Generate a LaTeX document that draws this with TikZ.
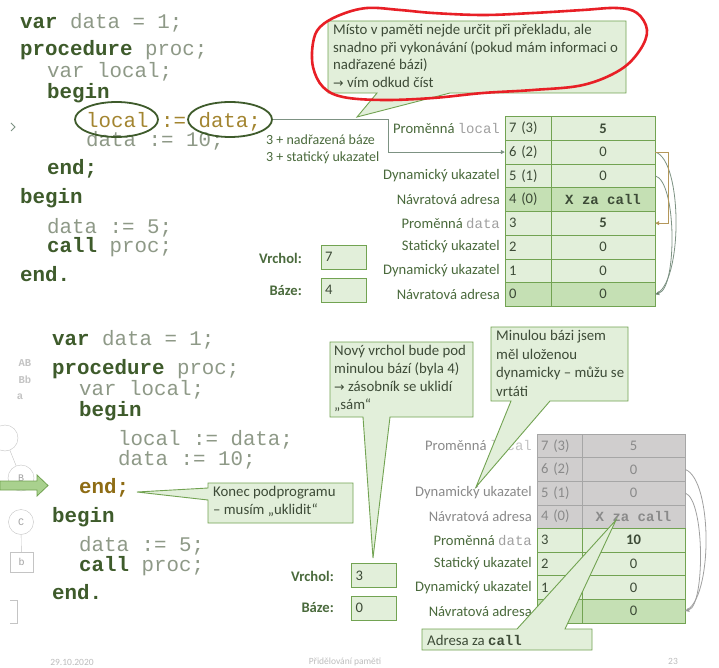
\documentclass[tikz,border=0pt]{standalone}
\usepackage{fontspec}
\setmainfont{Carlito}
\newfontfamily\cf{Liberation Mono}
\newfontfamily\djv{DejaVu Sans}
\usetikzlibrary{shapes.geometric,arrows.meta}
\definecolor{kw}{HTML}{3E5B2B}
\definecolor{cg}{HTML}{8E9987}
\definecolor{brn}{HTML}{A38530}
\definecolor{endc}{HTML}{8E6C14}
\definecolor{lg}{HTML}{E2EFDA}
\definecolor{mg}{HTML}{C5E0B4}
\definecolor{gb}{HTML}{72A352}
\definecolor{lab}{HTML}{4A6A3C}
\definecolor{txt}{HTML}{3D4B37}
\definecolor{gcell}{HTML}{D0CECE}
\definecolor{gbord}{HTML}{A6A6A6}
\definecolor{gtxt}{HTML}{8A8A8A}
\definecolor{arrf}{HTML}{A9D18E}
\definecolor{redm}{HTML}{E81F26}
\definecolor{tanc}{HTML}{B4975A}
\definecolor{crv}{HTML}{7D9283}
\definecolor{faint}{HTML}{BDBDBD}
\definecolor{gl}{HTML}{A0A0A0}
\definecolor{gll}{HTML}{C4C4C4}
\newcommand\kwd[1]{{\bfseries\color{kw}#1}}
\newcommand\cfs{\cf\fontsize{20.8}{24}\selectfont}
\newcommand\lfs{\fontsize{14.6}{16}\selectfont}
\newcommand\tfs{\fontsize{14.8}{17.6}\selectfont}
\newcommand\arw{{\djv\fontsize{12.5}{12}\selectfont →}}
\newcommand\mono[1]{{\cf\fontsize{14}{16}\selectfont #1}}
\begin{document}
\begin{tikzpicture}[x=1pt,y=-1pt,
 code/.style={anchor=base west,inner sep=0pt,font=\cfs,text=cg},
 lbl/.style={anchor=east,inner sep=0pt,font=\lfs,text=lab},
 glbl/.style={anchor=east,inner sep=0pt,font=\lfs,text=gtxt},
 cellA/.style={draw=gb,fill=lg,minimum height=23.7pt,text width=38pt,inner xsep=4pt,inner ysep=0pt,align=left,font=\lfs,text=txt},
 cellV/.style={draw=gb,fill=lg,minimum height=23.7pt,minimum width=104pt,inner sep=0pt,font=\lfs,text=txt},
 bcellA/.style={cellA,minimum height=23.6pt,text width=37pt},
 bcellV/.style={cellV,minimum height=23.6pt,minimum width=103pt},
 callout/.style={draw=gb,fill=lg,line width=0.9pt},
 ctext/.style={anchor=north west,inner sep=0pt,align=left,font=\tfs,text=txt},
 conn/.style={draw=crv,line width=0.8pt},
 sbox/.style={draw=gb,fill=lg,line width=0.9pt,minimum height=24pt,text width=37pt,inner xsep=4pt,align=left,font=\lfs,text=txt},
 slbl/.style={anchor=east,inner sep=0pt,font=\lfs\bfseries,text=lab},
 foot/.style={inner sep=0pt,font=\fontsize{9.5}{10}\selectfont,text=faint},
 tip/.style={-{Triangle[length=4pt,width=4pt]}}]
\useasboundingbox (0,0) rectangle (719,668);
\fill[white] (0,0) rectangle (719,668);

% ---------- top code ----------
\node[code] (c1) at (20,28.3) {\kwd{var} data = 1;};
\node[code] (c2) at (20,56) {\kwd{procedure} proc;};
\node[code] (c3) at (47,77.7) {var local;};
\node[code] (c4) at (47,98.3) {\kwd{begin}};
\node[code,text=brn] (c5) at (86,127.3) {local := data;};
\node[code] (c6) at (86,146.7) {data := 10;};
\node[code] (c7) at (47,175) {\kwd{end;}};
\node[code] (c8) at (20,203.3) {\kwd{begin}};
\node[code] (c9) at (47,233.3) {data := 5;};
\node[code] (c10) at (47,252.7) {\kwd{call} proc;};
\node[code] (c11) at (20,281) {\kwd{end.}};
\node[draw=kw,line width=1.8pt,ellipse,minimum width=83pt,minimum height=35pt,inner sep=0pt] (eL) at (116.5,119.5) {};
\node[draw=kw,line width=1.8pt,ellipse,minimum width=84pt,minimum height=35pt,inner sep=0pt] (eD) at (230,119.5) {};
\draw[crv,line width=1pt] (11,123)--(15,127)--(11,131);

% ---------- top table ----------
\foreach \nm/\ad/\va/\fc [count=\k from 0] in {7/7 (3)/{\bfseries 5}/lg, 6/6 (2)/0/lg, 5/5 (1)/0/lg, 4/4 (0)/{\cf\bfseries\fontsize{14}{16}\selectfont X za call}/mg, 3/3/{\bfseries 5}/lg, 2/2/0/lg, 1/1/0/lg, 0/0/0/mg}{
  \pgfmathsetmacro\yy{128.35+23.7*\k}
  \node[cellA,fill=\fc] (A\nm) at (528,\yy) {\ad};
  \node[cellV,fill=\fc] (V\nm) at (603,\yy) {\va};
}
\node[lbl] (L7) at (500,128.35) {Proměnná \mono{\color{gl}local}};
\node[lbl] (L5) at (500,175.75) {Dynamický ukazatel};
\node[lbl] (L4) at (500,199.45) {Návratová adresa};
\node[lbl] (L3) at (500,223.15) {Proměnná \mono{\color{gl}data}};
\node[lbl] (L2) at (500,246.85) {Statický ukazatel};
\node[lbl] (L1) at (500,270.55) {Dynamický ukazatel};
\node[lbl] (L0) at (500,294.25) {Návratová adresa};
\node[anchor=west,inner sep=0pt,font=\fontsize{14}{17.5}\selectfont,text=lab,align=left] (note) at (266,149.5) {3 + nadřazená báze\\3 + statický ukazatel};

\coordinate (k1) at (388,152.05);
\draw[conn,tip] (eD.east) -| (k1) -- (A6.west);
\coordinate (b1) at (668,152.05);
\draw[conn] (V6.east) .. controls (683,160) and (683,285) .. (V0.east);
\draw[conn,-{Triangle[length=4pt,width=4pt,fill=kw]}] (V5.east) .. controls (677,182) and (677,288) .. (V0.east);
\draw[tanc,line width=1pt,-{Triangle[length=4pt,width=4pt]}] (V6.east) -- (b1) |- (V3.east);

\node[slbl] (vl1) at (302,258) {Vrchol:};
\node[sbox] (vb1) at (343.5,257) {7};
\node[slbl] (bl1) at (302,291) {Báze:};
\node[sbox] (bb1) at (343.5,290) {4};

% ---------- top callout ----------
\draw[callout] (328,21)--(626,21)--(626,93)--(450,93)--(357,117)--(377,93)--(328,93)--cycle;
\node[ctext] (t1) at (333,24) {Místo v paměti nejde určit při překladu, ale\\snadno při vykonávání (pokud mám informaci o\\nadřazené bázi)\\\arw{} vím odkud číst};
\draw[redm,line width=2.6pt] plot[smooth cycle,tension=0.6] coordinates {(320,27) (340,15) (367,8) (400,10) (433,13) (483,15) (533,13) (583,10) (617,8) (637,13) (647,30) (640,50) (620,70) (583,85) (533,90) (483,93) (433,98) (383,100) (343,97) (323,87) (313,67) (313,43)};

% ---------- bottom code ----------
\node[code] (d1) at (52,345.7) {\kwd{var} data = 1;};
\node[code] (d2) at (52,374.3) {\kwd{procedure} proc;};
\node[code] (d3) at (79,395.7) {var local;};
\node[code] (d4) at (79,416) {\kwd{begin}};
\node[code] (d5) at (118,445) {local := data;};
\node[code] (d6) at (118,465) {data := 10;};
\node[code] (d7) at (79,493.3) {{\bfseries\color{endc}end;}};
\node[code] (d8) at (52,522) {\kwd{begin}};
\node[code] (d9) at (79,551.7) {data := 5;};
\node[code] (d10) at (79,571) {\kwd{call} proc;};
\node[code] (d11) at (52,599.3) {\kwd{end.}};

% left remnants
\node[inner sep=0pt,font=\cf\bfseries\fontsize{10.5}{11}\selectfont,text=gll] (ab1) at (25,363) {AB};
\node[inner sep=0pt,font=\cf\bfseries\fontsize{10.5}{11}\selectfont,text=gll] (ab2) at (25,380) {Bb};
\node[inner sep=0pt,font=\cf\bfseries\fontsize{10.5}{11}\selectfont,text=gll] (ab3) at (20,397) {a};
\node[draw=gll,circle,minimum size=26pt,inner sep=0pt] (r1) at (5,438) {};
\node[draw=gll,circle,minimum size=26pt,inner sep=0pt,font=\cf\fontsize{10}{11}\selectfont,text=gl] (r2) at (21,478) {B};
\node[draw=gll,circle,minimum size=25pt,inner sep=0pt,font=\cf\fontsize{10}{11}\selectfont,text=gl] (r3) at (21,522) {C};
\node[draw=gll,minimum width=23pt,minimum height=20pt,inner sep=0pt,font=\cf\fontsize{10}{11}\selectfont,text=gl] (r4) at (21.5,562) {b};
\draw[gll] (r1) -- (r2);
\draw[gll] (r3) -- (r4);
\draw[gll] (10,600)--(17,600)--(17,623)--(10,623);
\draw[draw=gb,fill=arrf,line width=0.8pt] (0,481)--(37,481)--(37,475)--(48,485.5)--(37,496)--(37,490)--(0,490)--cycle;

% ---------- bottom table ----------
\foreach \nm/\ad/\va [count=\k from 0] in {7/7 (3)/5, 6/6 (2)/0, 5/5 (1)/0, 4/4 (0)/{\cf\bfseries\fontsize{14}{16}\selectfont X za call}}{
  \pgfmathsetmacro\yy{445.8+23.6*\k}
  \node[bcellA,draw=gbord,fill=gcell,text=gtxt] (B\nm) at (559.5,\yy) {\ad};
  \node[bcellV,draw=gbord,fill=gcell,text=gtxt] (W\nm) at (633.5,\yy) {\va};
}
\foreach \nm/\ad/\va/\fc [count=\k from 4] in {3/3/{\bfseries 10}/lg, 2/2/0/lg, 1/1/0/lg, 0/0/0/mg}{
  \pgfmathsetmacro\yy{445.8+23.6*\k}
  \node[bcellA,fill=\fc] (B\nm) at (559.5,\yy) {\ad};
  \node[bcellV,fill=\fc] (W\nm) at (633.5,\yy) {\va};
}
\node[glbl] (M7) at (532,445.8) {Proměnná \mono{\color{gll}local}};
\node[glbl] (M5) at (532,493) {Dynamický ukazatel};
\node[glbl] (M4) at (532,516.6) {Návratová adresa};
\node[lbl] (M3) at (532,540.2) {Proměnná \mono{\color{gl}data}};
\node[lbl] (M2) at (532,563.8) {Statický ukazatel};
\node[lbl] (M1) at (532,587.4) {Dynamický ukazatel};
\node[lbl] (M0) at (532,611) {Návratová adresa};
\draw[draw=gl,line width=0.8pt] (W6.east) .. controls (713,480) and (713,600) .. (W0.east);
\draw[draw=gl,line width=0.8pt,-{Triangle[length=4pt,width=4pt,fill=gtxt]}] (W5.east) .. controls (705,500) and (705,605) .. (W0.east);

\node[slbl] (vl2) at (334,576) {Vrchol:};
\node[sbox] (vb2) at (374,575.5) {3};
\node[slbl] (bl2) at (334,608) {Báze:};
\node[sbox] (bb2) at (374,608) {0};

% ---------- bottom callouts ----------
\draw[callout] (208,483)--(353,483)--(353,523)--(208,523)--(208,500)--(137,492)--(208,488)--cycle;
\node[ctext,font=\fontsize{14.8}{18}\selectfont] (t2) at (213,486) {Konec podprogramu\\– musím „uklidit“};
\draw[callout] (330,342)--(473,342)--(473,417)--(390,417)--(373,558)--(363,417)--(330,417)--cycle;
\node[ctext,font=\fontsize{14.8}{18}\selectfont] (t3) at (334,345) {Nový vrchol bude pod\\minulou bází (byla 4)\\\arw{} zásobník se uklidí\\„sám“};
\draw[callout] (491,327)--(628,327)--(628,401)--(550,401)--(476,487)--(511,401)--(491,401)--cycle;
\node[ctext,font=\fontsize{14.8}{18.6}\selectfont] (t4) at (496,330) {Minulou bázi jsem\\měl uloženou\\dynamicky – můžu se\\vrtáti};
\draw[callout] (422,629)--(517,629)--(616,520)--(565,629)--(592,629)--(592,650)--(422,650)--cycle;
\node[anchor=west,inner sep=0pt,font=\tfs,text=txt] (t5) at (427,640) {Adresa za \mono{\bfseries call}};

% ---------- footer ----------
\node[foot] (f1) at (72,662) {29.10.2020};
\node[foot] (f2) at (345,662) {Přidělování paměti};
\node[foot] (f3) at (673,661) {23};
\end{tikzpicture}
\end{document}
